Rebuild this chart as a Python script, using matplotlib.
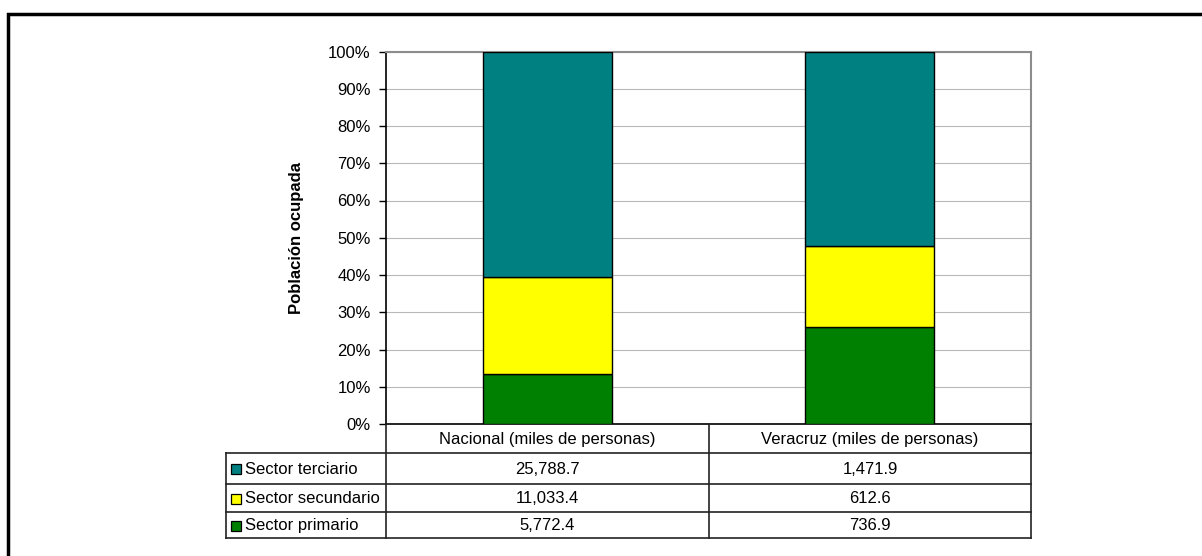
import matplotlib
matplotlib.use("Agg")
import matplotlib.pyplot as plt
from matplotlib.lines import Line2D
from matplotlib.patches import Rectangle
import numpy as np

plt.rcParams['font.family'] = ['Liberation Sans', 'DejaVu Sans']

# Data (thousands of people)
regions = ["Nacional (miles de personas)", "Veracruz (miles de personas)"]
sectors = ["Sector terciario", "Sector secundario", "Sector primario"]
terciario = [25788.7, 1471.9]
secundario = [11033.4, 612.6]
primario = [5772.4, 736.9]
sector_colors = ["#008080", "#FFFF00", "#008000"]
yticks = [0, 10, 20, 30, 40, 50, 60, 70, 80, 90, 100]

W, H = 1202, 556
FS = 12
fig = plt.figure(figsize=(W / 100, H / 100), dpi=100)


def fx(px):
    return px / W


def fy(py):
    return 1 - py / H


ax_l, ax_r, ax_t, ax_b = 386, 1031, 51.5, 424
ax = fig.add_axes([fx(ax_l), fy(ax_b), fx(ax_r) - fx(ax_l), fy(ax_t) - fy(ax_b)])

values = np.array([terciario, secundario, primario])
totals = values.sum(axis=0)
pct = values / totals * 100
x = np.arange(len(regions))

# Stack from the bottom: primario, secundario, terciario
bottom = np.zeros(len(regions))
for i in [2, 1, 0]:
    ax.bar(x, pct[i], 0.4, bottom=bottom, color=sector_colors[i],
           edgecolor="black", linewidth=1.0, zorder=3)
    bottom += pct[i]

ax.set_xlim(-0.5, len(regions) - 0.5)
ax.set_ylim(0, 100)
ax.set_yticks(yticks)
ax.set_yticklabels([f"{t}%" for t in yticks], fontsize=FS)
ax.set_xticks([])
ax.tick_params(axis="y", direction="out", length=5, width=1, pad=6, color="black")
ax.yaxis.grid(True, color="#b8b8b8", linewidth=0.8, zorder=0)
ax.set_axisbelow(True)
for s in ["top", "right"]:
    ax.spines[s].set_color("#8c8c8c")
    ax.spines[s].set_linewidth(1.5)
ax.spines["left"].set_color("black")
ax.spines["bottom"].set_color("black")
ax.spines["left"].set_linewidth(1.2)
ax.spines["bottom"].set_linewidth(1.2)

fig.text(fx(296), fy(238), "Población ocupada", rotation=90, ha="center",
         va="center", fontsize=FS, fontweight="bold")

# Data table underneath the axes
row_lines = [424, 452.5, 483.5, 511.5, 538]
lab_l = 226
col_edges = [ax_l, 709, ax_r]
lc = "#222222"


def hline(x0, x1, y):
    fig.add_artist(Line2D([fx(x0), fx(x1)], [fy(y), fy(y)], color=lc, lw=1.2))


def vline(x0, y0, y1):
    fig.add_artist(Line2D([fx(x0), fx(x0)], [fy(y0), fy(y1)], color=lc, lw=1.2))


for y in row_lines[1:]:
    hline(lab_l, ax_r, y)
for xe in col_edges:
    vline(xe, row_lines[0], row_lines[-1])
vline(lab_l, row_lines[1], row_lines[-1])

for j, name in enumerate(regions):
    xc = (col_edges[j] + col_edges[j + 1]) / 2
    fig.text(fx(xc), fy((row_lines[0] + row_lines[1]) / 2 + 1), name,
             ha="center", va="center", fontsize=FS)

for i, name in enumerate(sectors):
    yc = (row_lines[i + 1] + row_lines[i + 2]) / 2 + 1
    fig.add_artist(Rectangle((fx(231), fy(yc + 5)), fx(10), 10 / H,
                             facecolor=sector_colors[i], edgecolor="black",
                             lw=0.9, transform=fig.transFigure))
    fig.text(fx(245), fy(yc), name, ha="left", va="center", fontsize=FS)
    for j in range(len(regions)):
        xc = (col_edges[j] + col_edges[j + 1]) / 2
        fig.text(fx(xc), fy(yc), f"{values[i][j]:,.1f}",
                 ha="center", va="center", fontsize=FS)

# Outer chart frame
fig.add_artist(Rectangle((fx(7.5), fy(600)), fx(1300), (600 - 14) / H,
                         facecolor="none", edgecolor="black", lw=2.5,
                         transform=fig.transFigure))

fig.savefig("out.png", dpi=100)
